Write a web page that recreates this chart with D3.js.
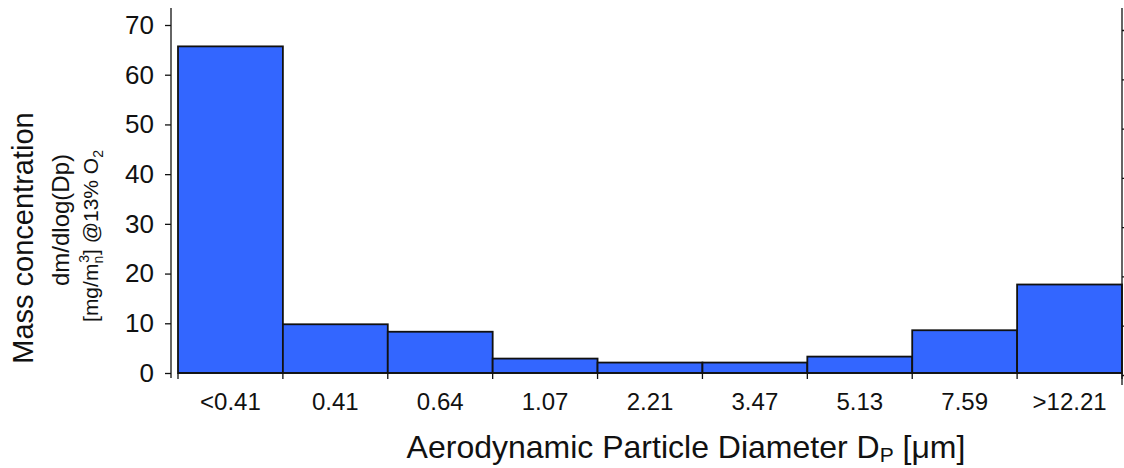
<!DOCTYPE html>
<html>
<head>
<meta charset="utf-8">
<script src="https://cdn.jsdelivr.net/npm/d3@7"></script>
<style>
  html, body { margin: 0; padding: 0; background: #fff; }
  svg { display: block; font-family: "Liberation Sans", Arial, Helvetica, sans-serif; }
</style>
</head>
<body>
<svg id="chart" width="1124" height="468"></svg>
<script>
const categories = ["<0.41", "0.41", "0.64", "1.07", "2.21", "3.47", "5.13", "7.59", ">12.21"];
const values = [65.7, 9.8, 8.3, 2.9, 2.1, 2.1, 3.3, 8.6, 17.8];
const yTicks = [0, 10, 20, 30, 40, 50, 60, 70];

const svg = d3.select("#chart");

const x = d3.scaleBand().domain(categories).range([178, 1122]).paddingInner(0).paddingOuter(0);
const y = d3.scaleLinear().domain([0, 70]).range([373, 25]);
const yRight = d3.scaleLinear().domain([0, 70]).range([375, 30]);

// bars
svg.append("g").selectAll("rect").data(values).join("rect")
  .attr("x", (d, i) => x(categories[i]))
  .attr("y", d => y(d))
  .attr("width", x.bandwidth())
  .attr("height", d => y(0) - y(d))
  .attr("fill", "#3366ff")
  .attr("stroke", "#111")
  .attr("stroke-width", 1.8);

// left axis
const leftAxis = svg.append("g").attr("transform", "translate(171,0)")
  .call(d3.axisLeft(y).tickValues(yTicks).tickSize(6).tickPadding(11).tickSizeOuter(0));
leftAxis.select(".domain").remove();
leftAxis.append("line").attr("x1", 0).attr("x2", 0).attr("y1", 8).attr("y2", 378)
  .attr("stroke", "#111").attr("stroke-width", 1.3);
leftAxis.selectAll(".tick line").attr("stroke", "#111").attr("stroke-width", 1.3);
leftAxis.selectAll(".tick text").attr("font-size", 26).attr("fill", "#111")
  .attr("font-family", "Liberation Sans, Arial, sans-serif");

// right axis
const rightAxis = svg.append("g").attr("transform", "translate(1122,0)")
  .call(d3.axisRight(yRight).tickValues(yTicks).tickSize(4).tickFormat(""));
rightAxis.select(".domain").remove();
rightAxis.append("line").attr("x1", 0).attr("x2", 0).attr("y1", 8).attr("y2", 385)
  .attr("stroke", "#111").attr("stroke-width", 1.3);
rightAxis.selectAll(".tick line").attr("stroke", "#111").attr("stroke-width", 1.3);

// bottom axis
const xb = d3.scaleLinear().domain([0, categories.length]).range([178, 1122]);
const bottom = svg.append("g").attr("transform", "translate(0,373)");
bottom.append("line").attr("x1", 178).attr("x2", 1122).attr("y1", 0).attr("y2", 0)
  .attr("stroke", "#111").attr("stroke-width", 1.6);
bottom.selectAll("line.tk").data(d3.range(categories.length + 1)).join("line")
  .attr("class", "tk")
  .attr("x1", d => xb(d)).attr("x2", d => xb(d))
  .attr("y1", 0).attr("y2", 6)
  .attr("stroke", "#111").attr("stroke-width", 1.3);
bottom.selectAll("text").data(categories).join("text")
  .attr("x", d => x(d) + x.bandwidth() / 2)
  .attr("y", 37)
  .attr("text-anchor", "middle")
  .attr("font-size", 24)
  .attr("fill", "#111")
  .text(d => d);

// x title
const xt = svg.append("text")
  .attr("x", 686).attr("y", 458)
  .attr("text-anchor", "middle")
  .attr("font-size", 32)
  .attr("fill", "#111");
xt.append("tspan").text("Aerodynamic Particle Diameter D");
xt.append("tspan").attr("font-size", 21).attr("dy", 4).text("P");
xt.append("tspan").attr("dy", -4).text(" [\u03bcm]");

// y title
const yt = svg.append("g");
yt.append("text")
  .attr("transform", "translate(33,238) rotate(-90)")
  .attr("text-anchor", "middle")
  .attr("font-size", 29)
  .attr("fill", "#111")
  .text("Mass concentration");
yt.append("text")
  .attr("transform", "translate(69,220) rotate(-90)")
  .attr("text-anchor", "middle")
  .attr("font-size", 24)
  .attr("fill", "#111")
  .text("dm/dlog(Dp)");
const t3 = yt.append("text")
  .attr("transform", "translate(98,236) rotate(-90)")
  .attr("text-anchor", "middle")
  .attr("font-size", 21)
  .attr("fill", "#111");
t3.append("tspan").text("[mg/m");
t3.append("tspan").attr("font-size", 14).attr("dy", 5).text("n");
t3.append("tspan").attr("font-size", 14).attr("dy", -14).attr("dx", -7).text("3");
t3.append("tspan").attr("dy", 9).text("] @13% O");
t3.append("tspan").attr("font-size", 14).attr("dy", 5).text("2");
</script>
</body>
</html>
